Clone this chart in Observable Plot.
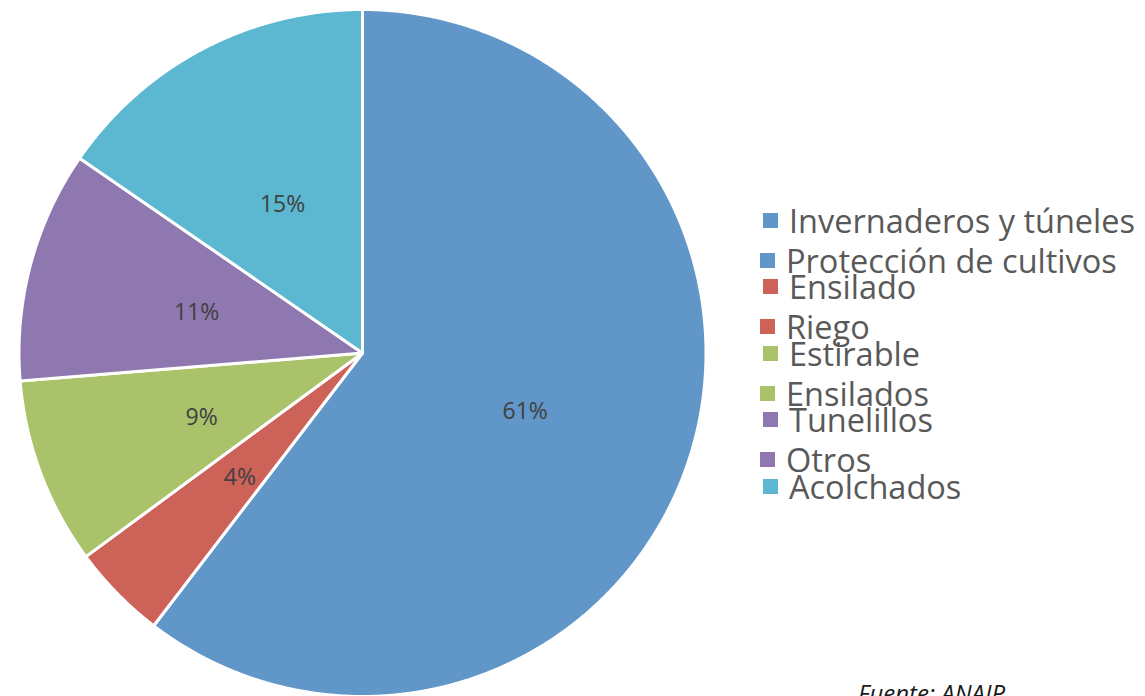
<!DOCTYPE html>
<html>
<head>
<meta charset="utf-8">
<script src="https://cdn.jsdelivr.net/npm/d3@7"></script>
<script src="https://cdn.jsdelivr.net/npm/@observablehq/plot@0.6"></script>
<style>
  html, body { margin: 0; padding: 0; background: #fff; overflow: hidden; }
  #wrap { position: relative; width: 1145px; height: 696px; font-family: "Open Sans", sans-serif; }
  #legend .sw { position: absolute; width: 15px; height: 15px; }
  #legend .lb { position: absolute; font-size: 32.5px; line-height: 32px; color: #595959; white-space: nowrap; }
  #source { position: absolute; left: 858px; top: 681px; font-size: 24px; line-height: 24px; font-style: italic; color: #1a1a1a; white-space: nowrap; }
</style>
</head>
<body>
<div id="wrap">
  <div id="chart"></div>
  <div id="legend"></div>
  <div id="source">Fuente: ANAIP</div>
</div>
<script>
// ---- Data ----
const shares = [60.4, 4.5, 8.8, 10.9, 15.4];
const shareLabels = ["61%", "4%", "9%", "11%", "15%"];
const legendLabels = [
  "Invernaderos y túneles", "Protección de cultivos",
  "Ensilado", "Riego",
  "Estirable", "Ensilados",
  "Tunelillos", "Otros",
  "Acolchados"
];
const legendSlice = [0, 0, 1, 1, 2, 2, 3, 3, 4];  // which slice colour each legend entry uses

// ---- Styles ----
const palette = ["#6096C8", "#CD6259", "#AAC36B", "#8F78B0", "#5BB8D0"];

// slice keys built from the legend pairs
const sliceKeys = shares.map((_, i) =>
  legendLabels.filter((_, j) => legendSlice[j] === i).join(" / "));

// geometry of each slice (unit circle, angle clockwise from top)
const total = d3.sum(shares);
const points = [];
const labels = [];
let acc = 0;
shares.forEach((v, i) => {
  const a0 = acc / total * 2 * Math.PI;
  acc += v;
  const a1 = acc / total * 2 * Math.PI;
  points.push({key: sliceKeys[i], x: 0, y: 0});
  const n = Math.max(2, Math.ceil((a1 - a0) / (Math.PI / 720)));
  for (let k = 0; k <= n; ++k) {
    const a = a0 + (a1 - a0) * k / n;
    points.push({key: sliceKeys[i], x: Math.sin(a), y: Math.cos(a)});
  }
  const am = (a0 + a1) / 2, r = 0.5;
  labels.push({text: shareLabels[i], x: r * Math.sin(am), y: r * Math.cos(am)});
});

const chart = Plot.plot({
  width: 1145,
  height: 696,
  marginLeft: 18.5,
  marginRight: 439.5,
  marginTop: 9,
  marginBottom: 0,
  style: {fontFamily: "'Open Sans', sans-serif", background: "transparent"},
  x: {domain: [-1, 1], axis: null},
  y: {domain: [-1, 1], axis: null},
  color: {domain: sliceKeys, range: palette},
  marks: [
    Plot.line(points, {
      x: "x", y: "y", z: "key", fill: "key",
      stroke: "#fff", strokeWidth: 3, strokeLinejoin: "round",
      curve: "linear-closed"
    }),
    Plot.text(labels, {
      x: "x", y: "y", text: "text", dy: 4,
      fill: "#404040", fontSize: 23
    })
  ]
});
document.getElementById("chart").appendChild(chart);

// ---- Legend ----
const legend = document.getElementById("legend");
legendLabels.forEach((name, i) => {
  const cy = 220 + 40 * Math.ceil(i / 2) + 26.5 * Math.floor(i / 2);
  const shift = i % 2 === 1 ? -3 : 0;
  const sw = document.createElement("div");
  sw.className = "sw";
  sw.style.left = (763 + shift) + "px";
  sw.style.top = (cy - 7.5) + "px";
  sw.style.background = palette[legendSlice[i]];
  legend.appendChild(sw);
  const lb = document.createElement("div");
  lb.className = "lb";
  lb.style.left = (789 + shift) + "px";
  lb.style.top = (cy + 13.5 - 28.6) + "px";
  lb.textContent = name;
  legend.appendChild(lb);
});
</script>
</body>
</html>
